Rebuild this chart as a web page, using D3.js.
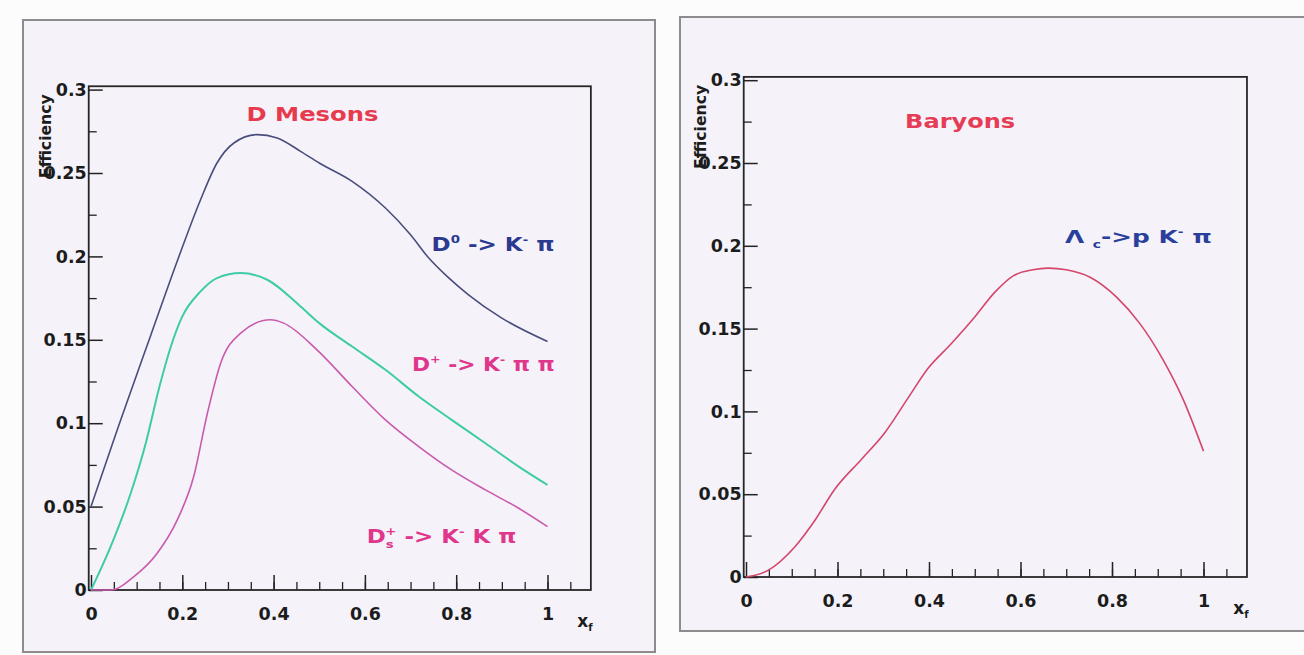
<!DOCTYPE html>
<html>
<head>
<meta charset="utf-8">
<script src="https://cdn.jsdelivr.net/npm/d3@7"></script>
<style>
  html, body { margin: 0; padding: 0; background: #fcfcfd; }
  svg { display: block; }
  text { font-family: "DejaVu Sans", "Liberation Sans", sans-serif; font-weight: bold; }
</style>
</head>
<body>
<svg id="chart" width="1304" height="655"></svg>
<script>
// ---------- efficiency vs x_F ----------
// D0 -> K- pi
const xfD0  = [0, 0.06, 0.13, 0.19, 0.24, 0.276, 0.313, 0.364, 0.408, 0.459, 0.5, 0.572, 0.645, 0.70, 0.74, 0.78, 0.827, 0.9, 1.0];
const effD0 = [0.050, 0.098, 0.152, 0.198, 0.234, 0.256, 0.268, 0.273, 0.271, 0.263, 0.256, 0.245, 0.229, 0.213, 0.199, 0.188, 0.177, 0.163, 0.149];

// D+ -> K- pi pi
const xfDp  = [0, 0.043, 0.087, 0.12, 0.15, 0.175, 0.2, 0.24, 0.276, 0.328, 0.386, 0.459, 0.5, 0.572, 0.645, 0.718, 0.79, 0.864, 0.937, 1.0];
const effDp = [0, 0.026, 0.058, 0.088, 0.122, 0.146, 0.164, 0.179, 0.187, 0.190, 0.186, 0.170, 0.160, 0.146, 0.132, 0.116, 0.102, 0.088, 0.074, 0.063];

// Ds+ -> K- K pi
const xfDs  = [0, 0.043, 0.094, 0.145, 0.189, 0.225, 0.255, 0.284, 0.328, 0.393, 0.422, 0.495, 0.572, 0.645, 0.718, 0.79, 0.864, 0.937, 1.0];
const effDs = [0, 0, 0.008, 0.022, 0.042, 0.068, 0.106, 0.136, 0.154, 0.162, 0.160, 0.144, 0.122, 0.102, 0.086, 0.072, 0.060, 0.049, 0.038];

// Lambda_c -> p K- pi
const xfLc  = [0, 0.048, 0.106, 0.15, 0.194, 0.252, 0.303, 0.354, 0.398, 0.449, 0.5, 0.544, 0.585, 0.627, 0.66, 0.70, 0.752, 0.81, 0.861, 0.912, 0.956, 1.0];
const effLc = [0, 0.004, 0.018, 0.034, 0.053, 0.071, 0.087, 0.108, 0.126, 0.141, 0.157, 0.172, 0.182, 0.1855, 0.1865, 0.1855, 0.181, 0.169, 0.153, 0.131, 0.107, 0.076];

// axis ticks
const xTickValues = [0, 0.2, 0.4, 0.6, 0.8, 1];
const xTickLabels = ["0", "0.2", "0.4", "0.6", "0.8", "1"];
const yTickValues = [0, 0.05, 0.1, 0.15, 0.2, 0.25, 0.3];
const yTickLabels = ["0", "0.05", "0.1", "0.15", "0.2", "0.25", "0.3"];

const panelTitles = ["D Mesons", "Baryons"];
const yTitle = "Efficiency";

// ---------- drawing ----------
const svg = d3.select("#chart");
const zip = (xs, ys) => xs.map((v, i) => [v, ys[i]]);

const panels = [
  { frame: [23, 20, 632, 632], x0: 91, xUnit: 456.5, y0: 590, yUnit: 1668 },
  { frame: [680, 17, 626, 614], x0: 746, xUnit: 457.5, y0: 577, yUnit: 1656 }
];

// outer panel boxes
panels.forEach(p => {
  svg.append("rect")
    .attr("x", p.frame[0]).attr("y", p.frame[1])
    .attr("width", p.frame[2]).attr("height", p.frame[3])
    .attr("fill", "#f5f3f9").attr("stroke", "#8c8c8c").attr("stroke-width", 2);
});

function makeScales(p) {
  const xd = [-0.005, 1.095];
  const yd = [0, 0.302];
  const x = d3.scaleLinear().domain(xd).range(xd.map(v => p.x0 + v * p.xUnit));
  const y = d3.scaleLinear().domain(yd).range(yd.map(v => p.y0 - v * p.yUnit));
  return { x, y };
}

function styleLabels(s) {
  s.selectAll("text").attr("fill", "#1c1c1c").attr("font-size", 17.5)
    .attr("font-family", "'DejaVu Sans', sans-serif").attr("font-weight", "bold");
}

function drawAxes(g, x, y) {
  const [xa, xb] = x.range();
  const [yb, ya] = y.range();

  // minor ticks
  g.append("g").attr("transform", `translate(0,${yb})`)
    .call(d3.axisBottom(x).tickValues(d3.range(0.05, 1.0751, 0.05)).tickFormat("").tickSizeInner(-8).tickSizeOuter(0))
    .call(s => s.select(".domain").remove())
    .call(s => s.selectAll("line").attr("stroke", "#222").attr("stroke-width", 1.3));
  g.append("g").attr("transform", `translate(${xa},0)`)
    .call(d3.axisLeft(y).tickValues(d3.range(0.025, 0.3, 0.05)).tickFormat("").tickSizeInner(-8).tickSizeOuter(0))
    .call(s => s.select(".domain").remove())
    .call(s => s.selectAll("line").attr("stroke", "#222").attr("stroke-width", 1.3));

  // major ticks + labels
  g.append("g").attr("transform", `translate(0,${yb})`)
    .call(d3.axisBottom(x).tickValues(xTickValues).tickFormat((d, i) => xTickLabels[i])
      .tickSizeInner(-15).tickSizeOuter(0).tickPadding(17.5))
    .call(s => s.select(".domain").remove())
    .call(s => s.selectAll("line").attr("stroke", "#222").attr("stroke-width", 1.5))
    .call(styleLabels);
  g.append("g").attr("transform", `translate(${xa},0)`)
    .call(d3.axisLeft(y).tickValues(yTickValues).tickFormat((d, i) => yTickLabels[i])
      .tickSizeInner(-14).tickSizeOuter(0).tickPadding(2))
    .call(s => s.select(".domain").remove())
    .call(s => s.selectAll("line").attr("stroke", "#222").attr("stroke-width", 1.5))
    .call(styleLabels);

  // plot frame
  g.append("rect")
    .attr("x", xa).attr("y", ya).attr("width", xb - xa).attr("height", yb - ya)
    .attr("fill", "none").attr("stroke", "#262626").attr("stroke-width", 1.8);

  // y title (rotated)
  g.append("text")
    .attr("transform", `translate(${xa - 38},${ya + 92}) rotate(-90)`)
    .attr("font-size", 15).attr("fill", "#1c1c1c")
    .attr("textLength", 84).attr("lengthAdjust", "spacingAndGlyphs")
    .text(yTitle);

  // x title
  const xt = g.append("text")
    .attr("x", x(1.065)).attr("y", yb + 37)
    .attr("fill", "#1c1c1c").attr("font-size", 17);
  xt.append("tspan").text("x");
  xt.append("tspan").attr("font-size", 10).attr("dy", 4).text("f");
}

// annotation helper: label placed in data units, stretched to a given width
function label(g, x, y, ux, vy, width, anchor, color, size, parts) {
  const wrap = g.append("g").attr("transform", `translate(${x(ux)},${y(vy)})`);
  const t = wrap.append("text").attr("text-anchor", anchor).attr("fill", color).attr("font-size", size);
  parts.forEach(pt => {
    const ts = t.append("tspan").text(pt.t);
    if (pt.size) ts.attr("font-size", pt.size);
    if (pt.dy) ts.attr("dy", pt.dy);
    if (pt.dx) ts.attr("dx", pt.dx);
  });
  const w = t.node().getBBox().width;
  t.attr("transform", `scale(${width / w},1)`);
}

const line = (x, y) => d3.line().x(d => x(d[0])).y(d => y(d[1])).curve(d3.curveMonotoneX);

// ---- left panel: D mesons ----
{
  const { x, y } = makeScales(panels[0]);
  const g = svg.append("g");
  drawAxes(g, x, y);

  const series = [
    { data: zip(xfD0, effD0), color: "#4a4d7c", w: 1.6 },
    { data: zip(xfDp, effDp), color: "#3fcba8", w: 2.0 },
    { data: zip(xfDs, effDs), color: "#c95aae", w: 1.6 }
  ];
  series.forEach(s => {
    g.append("path").attr("d", line(x, y)(s.data))
      .attr("fill", "none").attr("stroke", s.color).attr("stroke-width", s.w);
  });

  label(g, x, y, 0.485, 0.281, 132, "middle", "#e83a4e", 20, [{ t: panelTitles[0] }]);
  label(g, x, y, 0.746, 0.203, 123, "start", "#2b3a8e", 19, [
    { t: "D" }, { t: "0", size: 11, dy: -8 }, { t: " -> K", dy: 8 }, { t: "-", size: 11, dy: -8 }, { t: " π", dy: 8 }
  ]);
  label(g, x, y, 0.703, 0.131, 143, "start", "#e0368c", 19, [
    { t: "D" }, { t: "+", size: 11, dy: -8 }, { t: " -> K", dy: 8 }, { t: "-", size: 11, dy: -8 }, { t: " π π", dy: 8 }
  ]);
  label(g, x, y, 0.604, 0.028, 150, "start", "#e0368c", 19, [
    { t: "D" }, { t: "s", size: 11, dy: 5 }, { t: "+", size: 11, dy: -13, dx: -7 },
    { t: " -> K", dy: 8 }, { t: "-", size: 11, dy: -8 }, { t: " K π", dy: 8 }
  ]);
}

// ---- right panel: baryons ----
{
  const { x, y } = makeScales(panels[1]);
  const g = svg.append("g");
  drawAxes(g, x, y);

  g.append("path").attr("d", line(x, y)(zip(xfLc, effLc)))
    .attr("fill", "none").attr("stroke", "#d4466a").attr("stroke-width", 1.6);

  label(g, x, y, 0.468, 0.271, 110, "middle", "#e63c55", 20, [{ t: panelTitles[1] }]);
  label(g, x, y, 0.697, 0.2015, 147, "start", "#2a3f9c", 18, [
    { t: "Λ " }, { t: "c", size: 10, dy: 5 }, { t: "->p K", dy: -5 }, { t: "-", size: 10, dy: -8 }, { t: " π", dy: 8 }
  ]);
}
</script>
</body>
</html>
